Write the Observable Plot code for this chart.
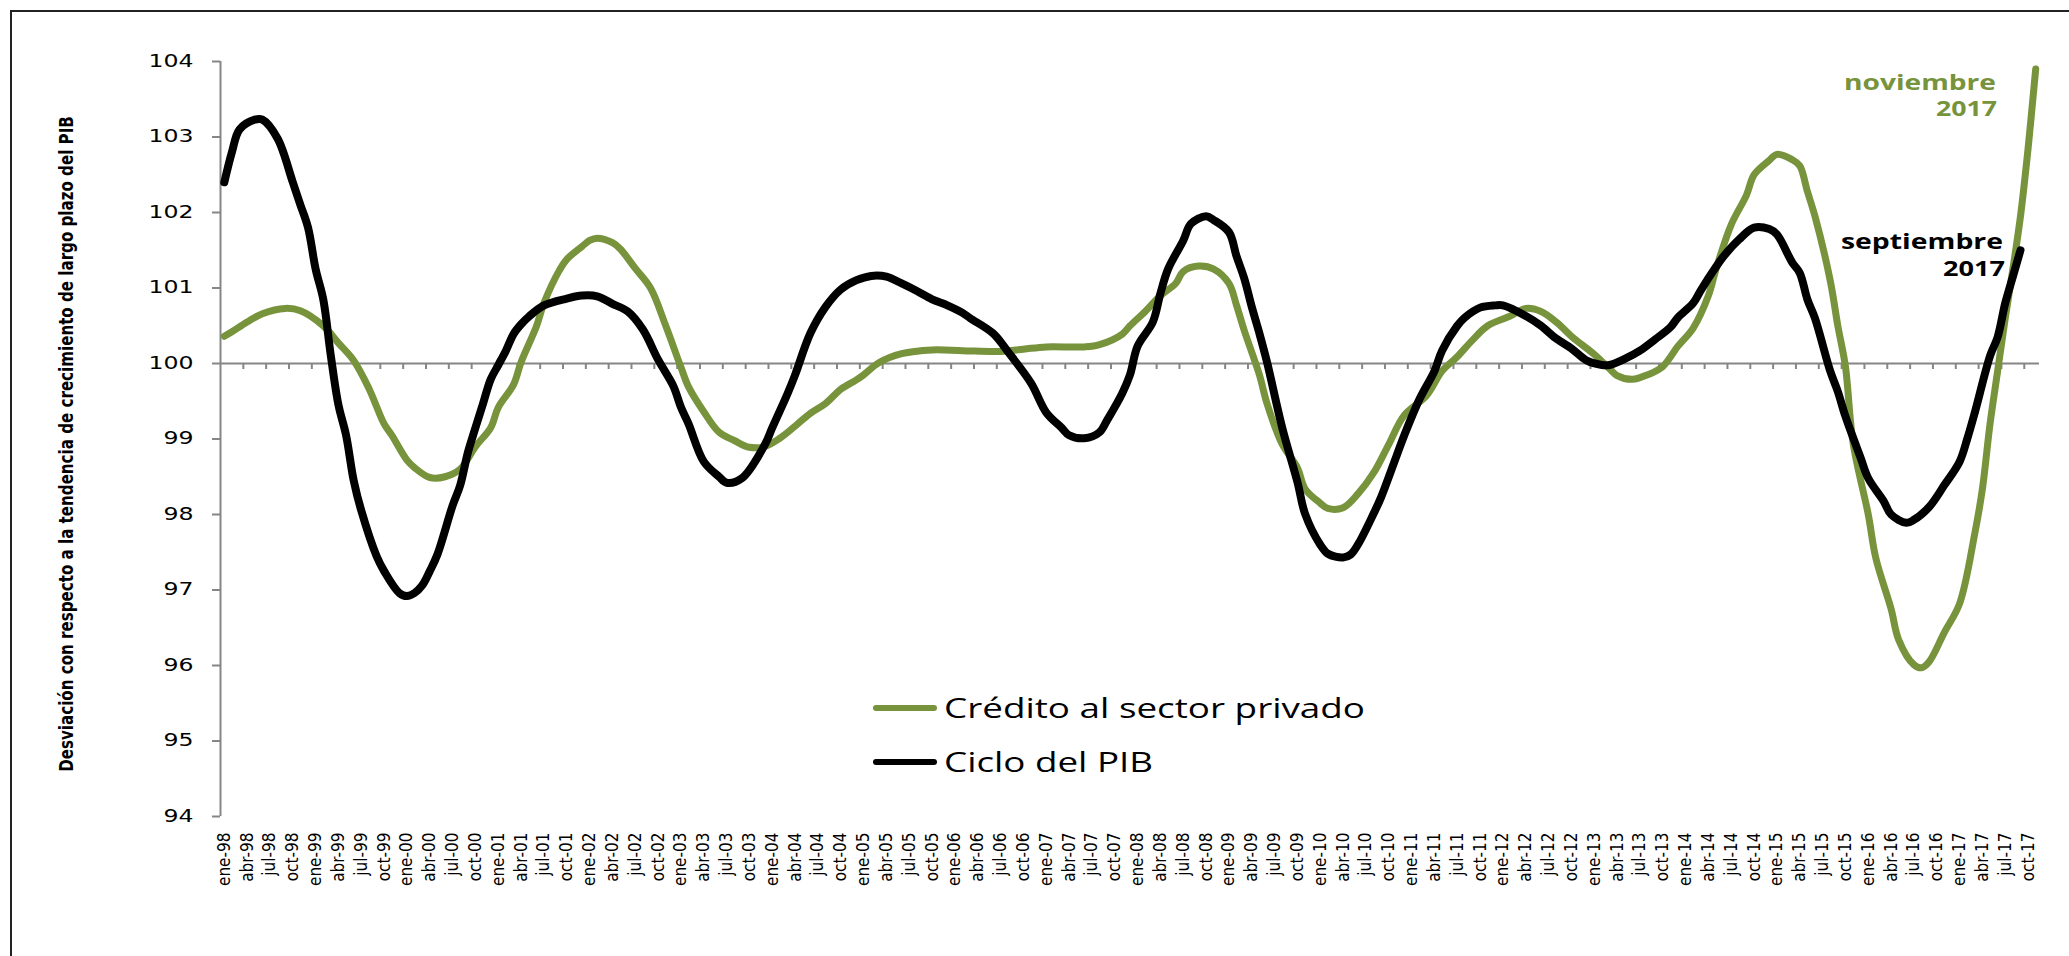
<!DOCTYPE html>
<html>
<head>
<meta charset="utf-8">
<script src="https://cdn.jsdelivr.net/npm/d3@7"></script>
<script src="https://cdn.jsdelivr.net/npm/@observablehq/plot@0.6"></script>
<style>
  html, body { margin: 0; padding: 0; background: #ffffff; }
  #chart { position: relative; width: 2069px; height: 956px; overflow: hidden; }
  #chart svg { position: absolute; left: 0; top: 0; }
</style>
</head>
<body>
<div id="chart"></div>
<script>
// ---- Data (month index: 0 = ene-98, 238 = nov-17) ----
const meses = ["ene", "abr", "jul", "oct"];
const anios = ["98","99","00","01","02","03","04","05","06","07","08","09","10","11","12","13","14","15","16","17"];
const yTicks = [94, 95, 96, 97, 98, 99, 100, 101, 102, 103, 104];

const creditoMes = [0,1,3,5,8,10,13,15,17,19,21,22,24,25,27,29,31,33,35,36,38,39,41,42,44,45,47,48,49,51,52,54,56,58,60,61,63,65,67,69,71,73,75,77,79,81,83,84,86,89,93,97,102,105,108,113,115,118,119,121,123,125,126,128,130,132,133,134,136,137,139,141,142,144,145,147,149,151,153,155,158,160,162,164,166,169,171,173,175,177,180,182,183,185,187,189,191,193,195,196,198,200,201,203,204,206,207,208,209,211,212,213,214,216,217,219,220,222,223,224,226,228,230,231,232,233,234,235,236,237,238];
const creditoValor = [100.36,100.42,100.55,100.66,100.73,100.70,100.50,100.27,100.04,99.67,99.20,99.05,98.72,98.62,98.49,98.50,98.60,98.90,99.15,99.42,99.72,100.02,100.49,100.80,101.23,101.38,101.55,101.63,101.66,101.60,101.52,101.26,101.00,100.50,99.95,99.69,99.36,99.09,98.98,98.89,98.90,99.01,99.17,99.34,99.47,99.66,99.78,99.85,100.01,100.13,100.18,100.17,100.16,100.19,100.22,100.22,100.25,100.39,100.50,100.69,100.90,101.06,101.22,101.29,101.25,101.06,100.77,100.44,99.85,99.47,98.93,98.62,98.34,98.15,98.08,98.09,98.28,98.55,98.93,99.31,99.58,99.90,100.09,100.31,100.50,100.63,100.73,100.69,100.55,100.36,100.12,99.93,99.84,99.79,99.85,99.96,100.23,100.47,100.90,101.25,101.84,102.23,102.50,102.69,102.77,102.70,102.62,102.28,101.95,101.10,100.50,99.96,98.95,98.00,97.42,96.75,96.34,96.01,95.97,96.05,96.44,96.82,97.75,98.34,99.20,99.90,100.60,101.25,101.95,102.85,103.90];

const pibMes = [0,1,2,4,5,7,9,10,11,12,13,14,15,16,17,18,20,21,23,24,25,26,27,28,30,31,32,33,34,35,36,37,38,39,40,42,45,47,49,51,53,55,57,59,60,61,63,65,66,68,71,72,74,75,77,79,81,83,85,87,89,91,93,95,97,98,101,103,106,108,110,111,113,115,116,118,119,120,122,123,124,126,127,129,130,132,133,134,135,136,137,139,141,142,144,145,147,148,149,151,152,154,155,157,159,160,162,163,165,167,168,171,173,175,177,179,181,182,184,186,188,190,191,193,194,196,197,199,201,203,204,206,207,208,209,211,212,213,215,216,218,219,221,222,224,226,228,229,230,232,233,234,235,236];
const pibValor = [102.40,102.80,103.10,103.23,103.23,102.98,102.40,102.10,101.80,101.25,100.85,100.10,99.45,99.05,98.45,98.05,97.45,97.25,96.96,96.92,96.96,97.06,97.25,97.47,98.12,98.39,98.82,99.15,99.47,99.79,99.98,100.17,100.39,100.52,100.62,100.77,100.86,100.90,100.89,100.79,100.69,100.45,100.05,99.70,99.42,99.20,98.70,98.50,98.42,98.48,98.92,99.15,99.60,99.85,100.40,100.75,100.98,101.10,101.16,101.15,101.06,100.96,100.85,100.77,100.67,100.60,100.40,100.15,99.74,99.35,99.15,99.05,99.01,99.09,99.25,99.61,99.85,100.23,100.55,100.93,101.25,101.63,101.85,101.95,101.90,101.74,101.42,101.13,100.75,100.40,100.02,99.15,98.43,98.01,97.60,97.48,97.43,97.47,97.61,98.01,98.23,98.77,99.04,99.52,99.90,100.17,100.50,100.61,100.74,100.77,100.77,100.63,100.50,100.33,100.20,100.04,99.98,99.98,100.06,100.17,100.32,100.48,100.61,100.80,100.97,101.28,101.42,101.64,101.80,101.78,101.71,101.34,101.20,100.85,100.60,99.90,99.63,99.30,98.75,98.48,98.18,98.00,97.89,97.93,98.10,98.39,98.70,99.00,99.35,100.10,100.35,100.80,101.15,101.50];

// ---- Derived tables ----
const etiquetas = anios.flatMap(a => meses.map(m => `${m}-${a}`));
const etiquetaMes = etiquetas.map((_, k) => 3 * k);
const limites = etiquetas.map((_, k) => 3 * k - 0.5).slice(1);
const credito = creditoMes.map((m, i) => ({m, v: creditoValor[i]}));
const pib = pibMes.map((m, i) => ({m, v: pibValor[i]}));

const W = 2069, H = 956;
const verde = "#77933C";
const gris = "#868686";

const chart = Plot.plot({
  width: W,
  height: H,
  marginLeft: 220,
  marginRight: 30,
  marginTop: 61,
  marginBottom: 140,
  x: {domain: [-0.5, 238.5]},
  y: {domain: [94, 104]},
  style: {background: "transparent", fontFamily: "DejaVu Sans", color: "#000"},
  marks: [
    Plot.ruleX([-0.5], {y1: 94, y2: 104, stroke: gris, strokeWidth: 2}),
    Plot.axisY({ticks: yTicks, tickSize: 8, tickPadding: 19, stroke: gris, strokeWidth: 2, fill: "#000", fontSize: 17, label: null}),
    Plot.ruleY([100], {x1: -0.5, x2: 238.5, stroke: gris, strokeWidth: 2}),
    Plot.ruleX(limites, {x: d => d, y1: 100, y2: 100 - 6 / 75.5, stroke: gris, strokeWidth: 2}),
    Plot.axisX({ticks: etiquetaMes, tickFormat: m => etiquetas[m / 3], tickRotate: -90, tickSize: 0, tickPadding: 16, fontSize: 17, fontFamily: "DejaVu Sans Condensed", fill: "#000", label: null}),
    Plot.line(credito, {x: "m", y: "v", stroke: verde, strokeWidth: 7, curve: "catmull-rom", strokeLinejoin: "round", strokeLinecap: "round"}),
    Plot.line(pib, {x: "m", y: "v", stroke: "#000", strokeWidth: 8, curve: "catmull-rom", strokeLinejoin: "round", strokeLinecap: "round"})
  ]
});

document.getElementById("chart").appendChild(chart);
const svg = d3.select(chart);

// stretch y tick labels horizontally like the reference
svg.selectAll('g[aria-label="y-axis tick label"] text')
  .attr("textLength", function () { return this.textContent.length * 15; })
  .attr("lengthAdjust", "spacingAndGlyphs");

// outer frame (left and top edges)
svg.insert("path", ":first-child")
  .attr("d", `M11,${H} V11 H${W}`)
  .attr("fill", "none")
  .attr("stroke", "#222")
  .attr("stroke-width", 2);

// y axis title (scaled to the reference's length)
const titulo = svg.append("text")
  .attr("text-anchor", "middle")
  .attr("font-family", "'Liberation Sans Narrow', 'DejaVu Sans Condensed', sans-serif")
  .attr("font-weight", "bold")
  .attr("font-size", 20)
  .attr("fill", "#000")
  .text("Desviación con respecto a la tendencia de crecimiento de largo plazo del PIB");
const natural = titulo.node().getComputedTextLength() || 656;
titulo.attr("transform", `translate(73,444) rotate(-90) scale(${656 / natural},1)`);

// legend
const leyenda = [
  {label: "Crédito al sector privado", color: verde, y: 708, len: 421},
  {label: "Ciclo del PIB", color: "#000", y: 762, len: 209}
];
leyenda.forEach(d => {
  svg.append("line").attr("x1", 876).attr("x2", 934).attr("y1", d.y).attr("y2", d.y)
    .attr("stroke", d.color).attr("stroke-width", 6).attr("stroke-linecap", "round");
  svg.append("text").attr("x", 944).attr("y", d.y + 10)
    .attr("text-anchor", "start")
    .attr("font-family", "'Open Sans', sans-serif").attr("font-size", 27)
    .attr("textLength", d.len).attr("lengthAdjust", "spacingAndGlyphs")
    .attr("fill", "#000").text(d.label);
});

// end annotations
const notas = [
  {t: "noviembre", x: 1996, y: 90, len: 152, c: verde},
  {t: "2017", x: 1997, y: 116, len: 61, c: verde},
  {t: "septiembre", x: 2003, y: 249, len: 162, c: "#000"},
  {t: "2017", x: 2005, y: 276, len: 62, c: "#000"}
];
notas.forEach(d => {
  svg.append("text").attr("x", d.x).attr("y", d.y)
    .attr("text-anchor", "end")
    .attr("font-family", "'Open Sans', sans-serif").attr("font-weight", "bold").attr("font-size", 22)
    .attr("textLength", d.len).attr("lengthAdjust", "spacingAndGlyphs")
    .attr("fill", d.c).text(d.t);
});
</script>
</body>
</html>
